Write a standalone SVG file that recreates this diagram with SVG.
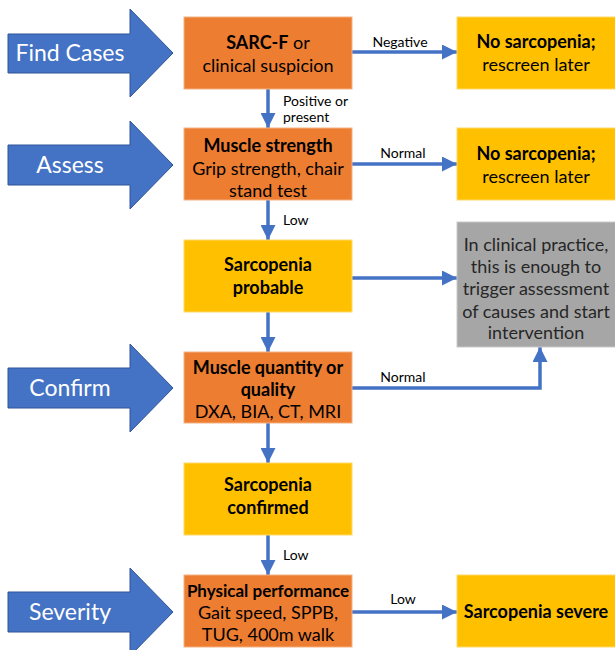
<svg xmlns="http://www.w3.org/2000/svg" width="615" height="650" viewBox="0 0 615 650">
<style>
.stage{fill:#4472c4;stroke:#2f5597;stroke-width:1}
.stxt{font-family:Lato,"Liberation Sans",sans-serif;font-size:23px;fill:#fff;text-anchor:middle}
.orange{fill:#ed7d31;stroke:#f4b183;stroke-width:1}
.yellow{fill:#ffc000;stroke:#ffd966;stroke-width:1}
.gray{fill:#a6a6a6;stroke:#c9c9c9;stroke-width:1}
.t{font-family:Lato,"Liberation Sans",sans-serif;font-size:18px;fill:#000;text-anchor:middle}
.b{font-weight:bold}
.g{fill:#262626}
.lbl{font-family:Lato,"Liberation Sans",sans-serif;font-size:14px;fill:#000}
.c{fill:none;stroke:#4472c4;stroke-width:3.5}
</style>
<defs>
<marker id="ah" markerUnits="userSpaceOnUse" markerWidth="15" markerHeight="15" refX="15" refY="7.5" orient="auto">
<path d="M0,0 L15,7.5 L0,15 Z" fill="#4472c4"/>
</marker>
</defs>
<g id="stage-find">
<polygon class="stage" points="8,34 130,34 130,9 173,53 130,97 130,73 8,73"/>
<text class="stxt" x="70" y="61">Find Cases</text>
</g>
<g id="stage-assess">
<polygon class="stage" points="8,145 130,145 130,121 173,165 130,209 130,185 8,185"/>
<text class="stxt" x="70" y="173">Assess</text>
</g>
<g id="stage-confirm">
<polygon class="stage" points="8,368 130,368 130,344 173,388 130,432 130,408 8,408"/>
<text class="stxt" x="70" y="396">Confirm</text>
</g>
<g id="stage-severity">
<polygon class="stage" points="8,592 130,592 130,568 173,612 130,656 130,632 8,632"/>
<text class="stxt" x="70" y="620">Severity</text>
</g>
<g id="connectors">
<line class="c" x1="268" y1="89" x2="268" y2="128" marker-end="url(#ah)"/>
<line class="c" x1="268" y1="200" x2="268" y2="240" marker-end="url(#ah)"/>
<line class="c" x1="268" y1="312" x2="268" y2="352" marker-end="url(#ah)"/>
<line class="c" x1="268" y1="423" x2="268" y2="463" marker-end="url(#ah)"/>
<line class="c" x1="268" y1="535" x2="268" y2="575" marker-end="url(#ah)"/>
<line class="c" x1="352" y1="52" x2="457" y2="52" marker-end="url(#ah)"/>
<line class="c" x1="352" y1="164" x2="457" y2="164" marker-end="url(#ah)"/>
<line class="c" x1="352" y1="278" x2="457" y2="278" marker-end="url(#ah)"/>
<polyline class="c" points="352,388 540,388 540,347" marker-end="url(#ah)"/>
<line class="c" x1="352" y1="612" x2="457" y2="612" marker-end="url(#ah)"/>
<text class="lbl" x="283" y="106">Positive or</text>
<text class="lbl" x="283" y="122">present</text>
<text class="lbl" x="283" y="225">Low</text>
<text class="lbl" x="283" y="560">Low</text>
<text class="lbl" x="400" y="47" text-anchor="middle">Negative</text>
<text class="lbl" x="403" y="158" text-anchor="middle">Normal</text>
<text class="lbl" x="403" y="382" text-anchor="middle">Normal</text>
<text class="lbl" x="403" y="604" text-anchor="middle">Low</text>
</g>
<g id="sarcf">
<rect class="orange" x="184" y="17" width="168" height="72"/>
<text class="t" x="268" y="49"><tspan class="b">SARC-F</tspan> or</text>
<text class="t" x="268" y="72">clinical suspicion</text>
</g>
<g id="strength">
<rect class="orange" x="184" y="128" width="168" height="72"/>
<text class="t b" x="268" y="152">Muscle strength</text>
<text class="t" x="268" y="175">Grip strength, chair</text>
<text class="t" x="268" y="197">stand test</text>
</g>
<g id="probable">
<rect class="yellow" x="184" y="240" width="168" height="72"/>
<text class="t b" x="268" y="271">Sarcopenia</text>
<text class="t b" x="268" y="294">probable</text>
</g>
<g id="quantity">
<rect class="orange" x="184" y="352" width="168" height="71"/>
<text class="t b" x="268" y="374">Muscle quantity or</text>
<text class="t b" x="268" y="396">quality</text>
<text class="t" x="268" y="418">DXA, BIA, CT, MRI</text>
</g>
<g id="confirmed">
<rect class="yellow" x="184" y="463" width="168" height="72"/>
<text class="t b" x="268" y="491">Sarcopenia</text>
<text class="t b" x="268" y="514">confirmed</text>
</g>
<g id="performance">
<rect class="orange" x="184" y="575" width="168" height="72"/>
<text class="t b" x="268" y="597" style="font-size:17px">Physical performance</text>
<text class="t" x="268" y="619">Gait speed, SPPB,</text>
<text class="t" x="268" y="641">TUG, 400m walk</text>
</g>
<g id="nosarc1">
<rect class="yellow" x="457" y="17" width="160" height="72"/>
<text class="t b" x="536" y="48">No sarcopenia;</text>
<text class="t" x="536" y="71">rescreen later</text>
</g>
<g id="nosarc2">
<rect class="yellow" x="457" y="128" width="160" height="72"/>
<text class="t b" x="536" y="160">No sarcopenia;</text>
<text class="t" x="536" y="183">rescreen later</text>
</g>
<g id="practice">
<rect class="gray" x="457" y="222" width="160" height="125"/>
<text class="t g" x="536" y="251">In clinical practice,</text>
<text class="t g" x="536" y="273">this is enough to</text>
<text class="t g" x="536" y="295">trigger assessment</text>
<text class="t g" x="536" y="318">of causes and start</text>
<text class="t g" x="536" y="339">intervention</text>
</g>
<g id="severe">
<rect class="yellow" x="457" y="575" width="160" height="72"/>
<text class="t b" x="536" y="618">Sarcopenia severe</text>
</g>
</svg>
